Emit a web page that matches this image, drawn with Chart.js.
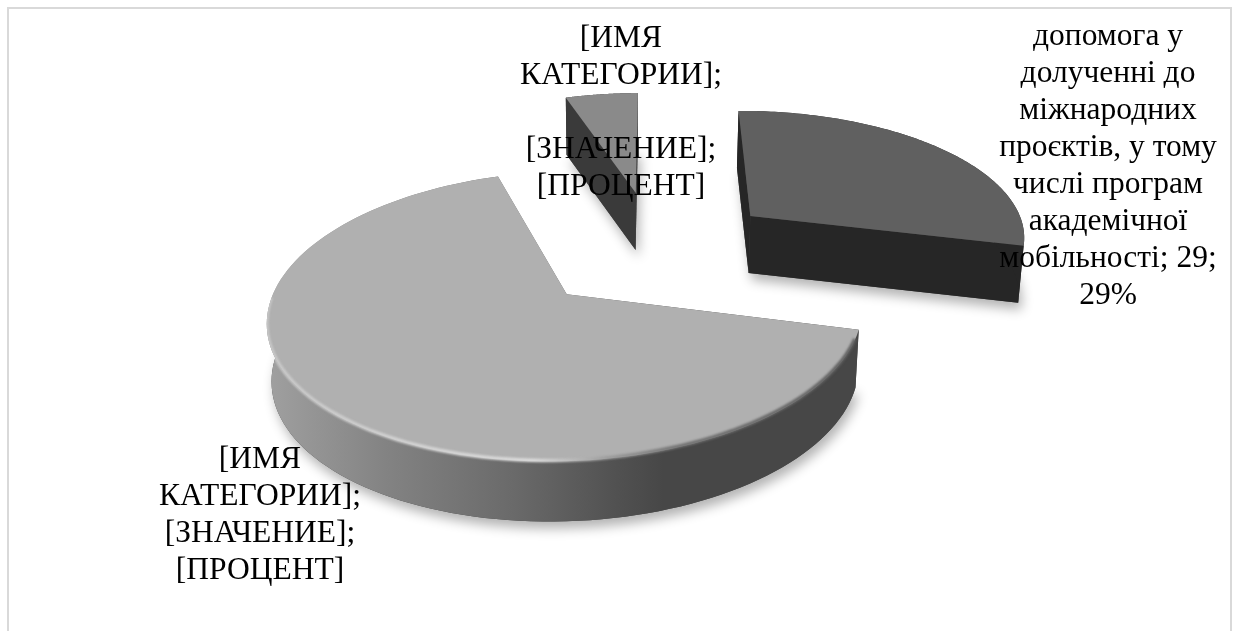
<!DOCTYPE html>
<html>
<head>
<meta charset="utf-8">
<script src="https://cdn.jsdelivr.net/npm/chart.js@4"></script>
<style>
  html, body { margin: 0; padding: 0; background: #fff; overflow: hidden; }
  #wrap { position: relative; width: 1239px; height: 631px; overflow: hidden; }
  #frame { position: absolute; left: 7px; top: 7px; width: 1221px; height: 700px; border: 2px solid #d9d9d9; }
  #pie { position: absolute; left: 0; top: 0; }
</style>
</head>
<body>
<div id="wrap">
  <div id="frame"></div>
  <canvas id="pie" width="1239" height="631"></canvas>
</div>
<script>
const categories = [
  'допомога у долученні до міжнародних проєктів, у тому числі програм академічної мобільності',
  '[ИМЯ КАТЕГОРИИ]',
  '[ИМЯ КАТЕГОРИИ]'
];
const values = [29, 66, 5];
const explosion = [44.5, 44.3, 48]; // percent of radius, like the excel setting

const label_dark = ['допомога у', 'долученні до', 'міжнародних', 'проєктів, у тому', 'числі програм', 'академічної', 'мобільності; 29;', '29%'];
const label_big = ['[ИМЯ', 'КАТЕГОРИИ];', '[ЗНАЧЕНИЕ];', '[ПРОЦЕНТ]'];
const label_small = ['[ИМЯ', 'КАТЕГОРИИ];', '', '[ЗНАЧЕНИЕ];', '[ПРОЦЕНТ]'];

const top_colors = ['#606060', '#b0b0b0', '#8a8a8a'];
const wall_colors = ['#262626', null, '#3a3a3a'];
const big_wall_stops = [[0, '#a0a0a0'], [0.2, '#838383'], [0.415, '#6a6a6a'], [0.6, '#505050'], [0.67, '#474747'], [1, '#474747']];
const big_bevel_stops = [[0, '#c8c8c8'], [0.45, '#dcdcdc'], [0.58, '#9a9a9a'], [0.7, '#707070'], [1, '#606060']];

// perspective of the plate, fitted by eye
const view = { vx: 670, ox: 566, oy: 294, rx: 293.7, ry: 142, k: 0.15, cx: 0.303, cy: -0.323, depth: 57 };

const project = (px, py, bottom) => {
  const s = 1 / (1 - view.k * py);
  let x = view.vx + (view.ox - view.vx + view.rx * px) * s;
  let y = view.oy + view.ry * py * s;
  if (bottom) {
    x = 620 + (x - 620) * 0.9865;
    y += view.depth + 3 * Math.max(py, 0);
  }
  return { x, y };
};

const slice_outline = (arc, bottom) => {
  const mid = (arc.startAngle + arc.endAngle) / 2;
  const e = (arc.options.offset || 0) / 100;
  const ax = view.cx + e * Math.cos(mid);
  const ay = view.cy + e * Math.sin(mid);
  const rim = [];
  const steps = 120;
  for (let i = 0; i <= steps; i++) {
    const t = arc.startAngle + (arc.endAngle - arc.startAngle) * i / steps;
    rim.push(project(ax + Math.cos(t), ay + Math.sin(t), bottom));
  }
  return { apex: project(ax, ay, bottom), rim };
};

const add_poly = (ctx, points) => {
  points.forEach((p, i) => (i ? ctx.lineTo(p.x, p.y) : ctx.moveTo(p.x, p.y)));
  ctx.closePath();
};

const trace = (ctx, points) => {
  ctx.beginPath();
  add_poly(ctx, points);
};

const x_gradient = (ctx, points, stops) => {
  const xs = points.map((p) => p.x);
  const g = ctx.createLinearGradient(Math.min(...xs), 0, Math.max(...xs), 0);
  stops.forEach((s) => g.addColorStop(s[0], s[1]));
  return g;
};

const draw_slice = (ctx, arc, i) => {
  const top = slice_outline(arc, false);
  const bot = slice_outline(arc, true);
  const wall = wall_colors[i] || x_gradient(ctx, top.rim, big_wall_stops);
  const band = [...top.rim, ...bot.rim.slice().reverse()];

  // soft shadow under the plate
  ctx.save();
  ctx.shadowColor = 'rgba(0,0,0,0.3)';
  ctx.shadowBlur = 12;
  ctx.shadowOffsetX = 3;
  ctx.shadowOffsetY = 7;
  ctx.fillStyle = '#444';
  trace(ctx, [bot.apex, ...bot.rim]);
  ctx.fill();
  ctx.restore();

  ctx.fillStyle = wall;
  // radial walls
  [[top.apex, top.rim[0], bot.rim[0], bot.apex],
   [top.apex, top.rim[top.rim.length - 1], bot.rim[bot.rim.length - 1], bot.apex]].forEach((q) => {
    trace(ctx, q);
    ctx.fill();
  });
  // outer wall, one polygon so the gradient has no seams
  trace(ctx, band);
  ctx.fill();

  ctx.fillStyle = top_colors[i];
  trace(ctx, [top.apex, ...top.rim]);
  ctx.fill();

  // bevel along the rim of the big slice, kept inside the silhouette
  if (!wall_colors[i]) {
    ctx.save();
    ctx.beginPath();
    add_poly(ctx, [top.apex, ...top.rim]);
    add_poly(ctx, band);
    ctx.clip();
    ctx.filter = 'blur(1.2px)';
    ctx.strokeStyle = x_gradient(ctx, top.rim, big_bevel_stops);
    ctx.lineWidth = 3.5;
    ctx.beginPath();
    top.rim.slice(2, 84).forEach((p, j) => (j ? ctx.lineTo(p.x, p.y - 1) : ctx.moveTo(p.x, p.y - 1)));
    ctx.stroke();
    ctx.restore();
  }
};

const draw_label = (ctx, lines, x, y) => {
  lines.forEach((line, i) => ctx.fillText(line, x, y + i * 37));
};

const pie_3d_plugin = {
  id: 'pie3d',
  beforeDatasetsDraw(chart) {
    const ctx = chart.ctx;
    const arcs = chart.getDatasetMeta(0).data;
    ctx.save();
    [2, 0, 1].forEach((i) => draw_slice(ctx, arcs[i], i));
    ctx.restore();
    return false;
  },
  afterDraw(chart) {
    const ctx = chart.ctx;
    ctx.save();
    ctx.font = '31.5px "Liberation Serif"';
    ctx.fillStyle = '#000';
    ctx.textAlign = 'center';
    ctx.textBaseline = 'alphabetic';
    draw_label(ctx, label_dark, 1108, 45);
    draw_label(ctx, label_big, 260, 468);
    draw_label(ctx, label_small, 621, 47);
    ctx.restore();
  }
};

new Chart(document.getElementById('pie'), {
  type: 'pie',
  data: {
    labels: categories,
    datasets: [{ data: values, backgroundColor: top_colors, offset: explosion, borderWidth: 0 }]
  },
  options: {
    responsive: false,
    animation: false,
    rotation: -0.5,
    plugins: { legend: { display: false }, tooltip: { enabled: false } }
  },
  plugins: [pie_3d_plugin]
});
</script>
</body>
</html>
